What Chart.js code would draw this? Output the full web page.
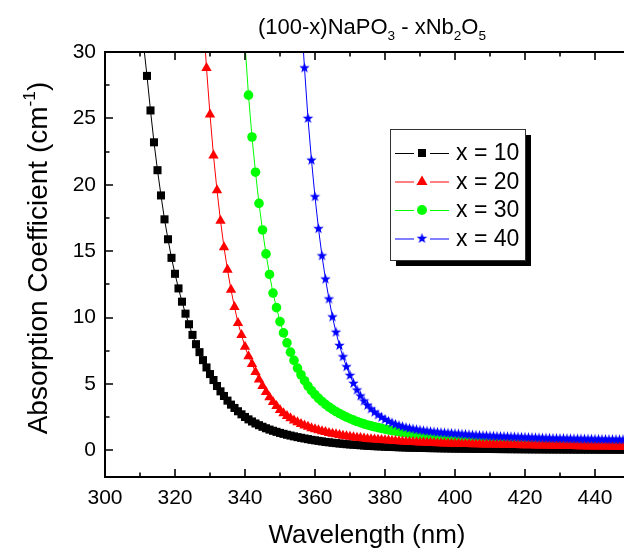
<!DOCTYPE html>
<html>
<head>
<meta charset="utf-8">
<script src="https://cdn.jsdelivr.net/npm/chart.js"></script>
<style>
  html, body { margin: 0; padding: 0; background: #fff; }
  #wrap { width: 624px; height: 552px; }
</style>
</head>
<body>
<div id="wrap"><canvas id="chart" width="624" height="552"></canvas></div>
<script>
// wavelength grid (nm), shared by all four curves
const wavelength = [
  311, 312, 313, 314, 315, 316, 317, 318, 319, 320,
  321, 322, 323, 324, 325, 326, 327, 328, 329, 330,
  331, 332, 333, 334, 335, 336, 337, 338, 339, 340,
  341, 342, 343, 344, 345, 346, 347, 348, 349, 350,
  351, 352, 353, 354, 355, 356, 357, 358, 359, 360,
  361, 362, 363, 364, 365, 366, 367, 368, 369, 370,
  371, 372, 373, 374, 375, 376, 377, 378, 379, 380,
  381, 382, 383, 384, 385, 386, 387, 388, 389, 390,
  391, 392, 393, 394, 395, 396, 397, 398, 399, 400,
  401, 402, 403, 404, 405, 406, 407, 408, 409, 410,
  411, 412, 413, 414, 415, 416, 417, 418, 419, 420,
  421, 422, 423, 424, 425, 426, 427, 428, 429, 430,
  431, 432, 433, 434, 435, 436, 437, 438, 439, 440,
  441, 442, 443, 444, 445, 446, 447, 448, 449, 450
];

// absorption coefficient (cm^-1), x = 10, starts at 311 nm
const absX10 = [
  30.6, 28.2, 25.6, 23.2, 21.1, 19.2, 17.4, 15.9, 14.5, 13.3,
  12.2, 11.2, 10.3, 9.5, 8.7, 8.0, 7.4, 6.8, 6.25, 5.75,
  5.3, 4.85, 4.45, 4.1, 3.75, 3.45, 3.2, 2.95, 2.72, 2.52,
  2.34, 2.18, 2.03, 1.9, 1.78, 1.67, 1.57, 1.48, 1.4, 1.32,
  1.25, 1.18, 1.12, 1.06, 1.0, 0.95, 0.9, 0.85, 0.8, 0.76,
  0.72, 0.68, 0.64, 0.61, 0.58, 0.55, 0.52, 0.5, 0.47, 0.45,
  0.43, 0.41, 0.39, 0.37, 0.35, 0.34, 0.32, 0.31, 0.3, 0.28,
  0.27, 0.26, 0.25, 0.24, 0.23, 0.22, 0.21, 0.205, 0.2, 0.19,
  0.185, 0.18, 0.175, 0.17, 0.165, 0.16, 0.155, 0.15, 0.145, 0.14,
  0.138, 0.135, 0.132, 0.129, 0.126, 0.123, 0.12, 0.117, 0.114, 0.111,
  0.108, 0.105, 0.103, 0.1, 0.098, 0.096, 0.094, 0.092, 0.09, 0.088,
  0.086, 0.084, 0.082, 0.08, 0.079, 0.078, 0.076, 0.075, 0.074, 0.072,
  0.071, 0.07, 0.069, 0.068, 0.067, 0.066, 0.065, 0.064, 0.063, 0.062,
  0.061, 0.06, 0.059, 0.058, 0.057, 0.056, 0.055, 0.054, 0.053, 0.052
];

// x = 20, starts at 328 nm
const absX20 = [
  32.8, 28.8, 25.3,
  22.2, 19.6, 17.3, 15.3, 13.6, 12.1, 10.8, 9.6, 8.7, 7.8,
  7.1, 6.5, 5.9, 5.35, 4.85, 4.4, 4.0, 3.65, 3.35, 3.05,
  2.8, 2.6, 2.42, 2.26, 2.12, 2.0, 1.88, 1.78, 1.68, 1.6,
  1.52, 1.45, 1.38, 1.32, 1.26, 1.21, 1.16, 1.11, 1.07, 1.03,
  0.99, 0.96, 0.93, 0.9, 0.87, 0.85, 0.83, 0.81, 0.79, 0.77,
  0.75, 0.73, 0.71, 0.69, 0.67, 0.66, 0.64, 0.63, 0.62, 0.6,
  0.59, 0.58, 0.57, 0.56, 0.55, 0.54, 0.53, 0.52, 0.51, 0.5,
  0.495, 0.49, 0.485, 0.48, 0.47, 0.465, 0.46, 0.455, 0.45, 0.445,
  0.44, 0.435, 0.43, 0.425, 0.42, 0.415, 0.41, 0.405, 0.4, 0.395,
  0.39, 0.385, 0.38, 0.375, 0.37, 0.365, 0.36, 0.355, 0.35, 0.345,
  0.34, 0.335, 0.33, 0.325, 0.32, 0.315, 0.31, 0.305, 0.3, 0.298,
  0.295, 0.292, 0.29, 0.288, 0.285, 0.282, 0.28, 0.278, 0.275, 0.272
];

// x = 30, starts at 340 nm
const absX30 = [
  30.6,
  26.75, 23.6, 20.95, 18.6, 16.6, 14.8, 13.25, 11.85, 10.75, 9.7,
  8.85, 8.1, 7.4, 6.78, 6.2, 5.7, 5.25, 4.85, 4.5, 4.2,
  3.93, 3.69, 3.47, 3.27, 3.09, 2.93, 2.78, 2.64, 2.51, 2.39,
  2.28, 2.18, 2.09, 2.0, 1.92, 1.85, 1.78, 1.72, 1.66, 1.6,
  1.55, 1.5, 1.45, 1.41, 1.37, 1.33, 1.29, 1.26, 1.23, 1.2,
  1.17, 1.14, 1.11, 1.08, 1.06, 1.04, 1.02, 1.0, 0.98, 0.96,
  0.94, 0.92, 0.9, 0.88, 0.86, 0.84, 0.82, 0.8, 0.79, 0.78,
  0.76, 0.75, 0.74, 0.72, 0.71, 0.7, 0.69, 0.68, 0.67, 0.66,
  0.65, 0.64, 0.63, 0.62, 0.61, 0.6, 0.59, 0.58, 0.57, 0.56,
  0.555, 0.55, 0.545, 0.54, 0.535, 0.53, 0.525, 0.52, 0.515, 0.51,
  0.505, 0.5, 0.495, 0.49, 0.485, 0.48, 0.475, 0.47, 0.465, 0.46
];

// x = 40, starts at 356 nm
const absX40 = [
  33.0,
  28.8, 25.0, 21.85, 19.1,
  16.7, 14.65, 12.9, 11.4, 10.05, 8.9, 7.9, 7.05, 6.3, 5.65,
  5.05, 4.55, 4.1, 3.72, 3.4, 3.12, 2.88, 2.67, 2.49, 2.33,
  2.19, 2.07, 1.96, 1.87, 1.79, 1.72, 1.66, 1.61, 1.56, 1.52,
  1.48, 1.45, 1.42, 1.39, 1.36, 1.34, 1.32, 1.3, 1.28, 1.26,
  1.24, 1.22, 1.2, 1.18, 1.16, 1.14, 1.12, 1.11, 1.1, 1.08,
  1.07, 1.06, 1.05, 1.04, 1.03, 1.02, 1.01, 1.0, 0.99, 0.98,
  0.97, 0.96, 0.95, 0.94, 0.93, 0.92, 0.91, 0.9, 0.895, 0.89,
  0.885, 0.88, 0.875, 0.87, 0.865, 0.86, 0.855, 0.85, 0.845, 0.84,
  0.835, 0.83, 0.825, 0.82, 0.815, 0.81, 0.805, 0.8, 0.795, 0.79
];

const seriesLabels = ['x = 10', 'x = 20', 'x = 30', 'x = 40'];
const seriesStart = [311, 328, 340, 356];
const xTicks = [300, 320, 340, 360, 380, 400, 420, 440];
const yTicks = [0, 5, 10, 15, 20, 25, 30];

const FONT = "'Liberation Sans', Arial, sans-serif";

// filled five point star, used as an image point style
function makeStar(r, color) {
    const c = document.createElement('canvas');
    const s = Math.ceil(r * 2) + 2;
    c.width = s;
    c.height = s;
    const g = c.getContext('2d');
    g.fillStyle = color;
    g.beginPath();
    for (let i = 0; i < 10; i++) {
        const rr = i % 2 === 0 ? r : r * 0.42;
        const ang = -Math.PI / 2 + i * Math.PI / 5;
        const px = s / 2 + rr * Math.cos(ang);
        const py = s / 2 + rr * Math.sin(ang);
        if (i === 0) g.moveTo(px, py); else g.lineTo(px, py);
    }
    g.closePath();
    g.fill();
    return c;
}
const starImg = makeStar(5.5, '#0000ff');

function toPoints(values, start) {
    const wl = wavelength.slice(wavelength.indexOf(start));
    return values.map((v, i) => ({ x: wl[i], y: v }));
}

const styles = [
    { color: '#000000', point: 'rect', radius: 5.7, order: 4 },
    { color: '#ff0000', point: 'triangle', radius: 6, order: 2 },
    { color: '#00ff00', point: 'circle', radius: 4.8, order: 3 },
    { color: '#0000ff', point: starImg, radius: 5, order: 1 }
];
const allValues = [absX10, absX20, absX30, absX40];

// draws a string made of normal / sub / sup pieces
function richWidth(ctx, parts, size) {
    let w = 0;
    parts.forEach(p => {
        ctx.font = (p.sub || p.sup ? size * 0.62 : size) + 'px ' + FONT;
        w += ctx.measureText(p.t).width;
    });
    return w;
}
function drawRich(ctx, parts, cx, baseY, size) {
    let xx = cx - richWidth(ctx, parts, size) / 2;
    ctx.textAlign = 'left';
    ctx.textBaseline = 'alphabetic';
    parts.forEach(p => {
        const small = p.sub || p.sup;
        ctx.font = (small ? size * 0.62 : size) + 'px ' + FONT;
        let yy = baseY;
        if (p.sub) yy += size * 0.28;
        if (p.sup) yy -= size * 0.42;
        ctx.fillText(p.t, xx, yy);
        xx += ctx.measureText(p.t).width;
    });
}

const decorations = {
    id: 'decorations',
    afterDatasetsDraw(chart) {
        const { ctx, chartArea: a, scales: { x, y } } = chart;
        ctx.save();
        ctx.strokeStyle = '#000';
        ctx.lineWidth = 2;
        ctx.beginPath();
        ctx.moveTo(a.left, a.top); ctx.lineTo(a.right, a.top);
        ctx.moveTo(a.left, a.top - 1); ctx.lineTo(a.left, a.bottom + 1);
        ctx.moveTo(a.left, a.bottom); ctx.lineTo(a.right, a.bottom);
        ctx.stroke();

        // inward ticks, major and minor
        ctx.lineWidth = 1.6;
        ctx.beginPath();
        const xStep = xTicks[1] - xTicks[0];
        xTicks.forEach(v => {
            const px = Math.round(x.getPixelForValue(v));
            ctx.moveTo(px, a.bottom); ctx.lineTo(px, a.bottom - 8);
            ctx.moveTo(px, a.top); ctx.lineTo(px, a.top + 8);
            const pm = Math.round(x.getPixelForValue(v + xStep / 2));
            if (pm < a.right) {
                ctx.moveTo(pm, a.bottom); ctx.lineTo(pm, a.bottom - 4.5);
                ctx.moveTo(pm, a.top); ctx.lineTo(pm, a.top + 4.5);
            }
        });
        const yStep = yTicks[1] - yTicks[0];
        yTicks.forEach(v => {
            const py = Math.round(y.getPixelForValue(v));
            ctx.moveTo(a.left, py); ctx.lineTo(a.left + 8, py);
            const pm = Math.round(y.getPixelForValue(v - yStep / 2));
            if (pm < a.bottom) { ctx.moveTo(a.left, pm); ctx.lineTo(a.left + 4.5, pm); }
        });
        ctx.stroke();

        ctx.fillStyle = '#000';
        // title
        drawRich(ctx, [
            { t: '(100-x)NaPO' }, { t: '3', sub: true }, { t: ' - xNb' },
            { t: '2', sub: true }, { t: 'O' }, { t: '5', sub: true }
        ], 372, 34, 22);
        // x axis title
        drawRich(ctx, [{ t: 'Wavelength (nm)' }], 367, 543, 26);
        // y axis title
        ctx.save();
        ctx.translate(47, 258);
        ctx.rotate(-Math.PI / 2);
        drawRich(ctx, [
            { t: 'Absorption Coefficient (cm' }, { t: '-1', sup: true }, { t: ')' }
        ], 0, 0, 28);
        ctx.restore();

        // legend box with shadow
        const lx = 390, ly = 129, lw = 135, lh = 131;
        ctx.fillStyle = '#000';
        ctx.fillRect(lx + 6, ly + 6, lw, lh);
        ctx.fillStyle = '#fff';
        ctx.fillRect(lx, ly, lw, lh);
        ctx.strokeStyle = '#333';
        ctx.lineWidth = 1;
        ctx.strokeRect(lx + 0.5, ly + 0.5, lw, lh);

        const rowY = [153, 181.5, 210, 238.5];
        seriesLabels.forEach((label, i) => {
            const st = styles[i];
            const cy = rowY[i];
            ctx.strokeStyle = st.color;
            ctx.lineWidth = 1;
            ctx.beginPath();
            ctx.moveTo(395, cy + 0.5); ctx.lineTo(414, cy + 0.5);
            ctx.moveTo(430, cy + 0.5); ctx.lineTo(449, cy + 0.5);
            ctx.stroke();
            ctx.fillStyle = st.color;
            const mx = 422;
            if (st.point === 'rect') {
                ctx.fillRect(mx - 4, cy - 4, 8, 8);
            } else if (st.point === 'triangle') {
                ctx.beginPath();
                ctx.moveTo(mx, cy - 6); ctx.lineTo(mx + 5.5, cy + 3.5); ctx.lineTo(mx - 5.5, cy + 3.5);
                ctx.closePath(); ctx.fill();
            } else if (st.point === 'circle') {
                ctx.beginPath(); ctx.arc(mx, cy, 5, 0, Math.PI * 2); ctx.fill();
            } else {
                ctx.drawImage(st.point, mx - st.point.width / 2, cy - st.point.height / 2);
            }
            ctx.fillStyle = '#000';
            ctx.font = '23px ' + FONT;
            ctx.textAlign = 'left';
            ctx.textBaseline = 'middle';
            ctx.fillText(label, 456, cy + 1);
        });
        ctx.restore();
    }
};

const datasets = allValues.map((vals, i) => ({
    label: seriesLabels[i],
    data: toPoints(vals, seriesStart[i]),
    borderColor: styles[i].color,
    backgroundColor: styles[i].color,
    borderWidth: 1,
    pointStyle: styles[i].point,
    pointRadius: styles[i].radius,
    pointBorderWidth: 0,
    pointBackgroundColor: styles[i].color,
    tension: 0,
    order: styles[i].order,
    clip: { left: 0, top: 0, right: 0, bottom: 0 }
}));

new Chart(document.getElementById('chart'), {
    type: 'line',
    data: { datasets: datasets },
    options: {
        responsive: false,
        animation: false,
        layout: { autoPadding: false, padding: { top: 52, left: 0, right: 0, bottom: 0 } },
        plugins: {
            legend: { display: false },
            title: { display: false },
            tooltip: { enabled: false }
        },
        scales: {
            x: {
                type: 'linear',
                min: 300,
                max: 448.29,
                grid: { display: false, drawTicks: false },
                border: { display: false },
                afterBuildTicks: (s) => { s.ticks = xTicks.map(v => ({ value: v })); },
                afterFit: (s) => { s.height = 75; },
                ticks: {
                    color: '#000',
                    padding: 9,
                    maxRotation: 0,
                    font: { family: FONT, size: 21 }
                }
            },
            y: {
                type: 'linear',
                min: -2,
                max: 30,
                grid: { display: false, drawTicks: false },
                border: { display: false },
                afterBuildTicks: (s) => { s.ticks = yTicks.map(v => ({ value: v })); },
                afterFit: (s) => { s.width = 105; },
                ticks: {
                    color: '#000',
                    padding: 9,
                    font: { family: FONT, size: 21 }
                }
            }
        }
    },
    plugins: [decorations]
});
</script>
</body>
</html>
